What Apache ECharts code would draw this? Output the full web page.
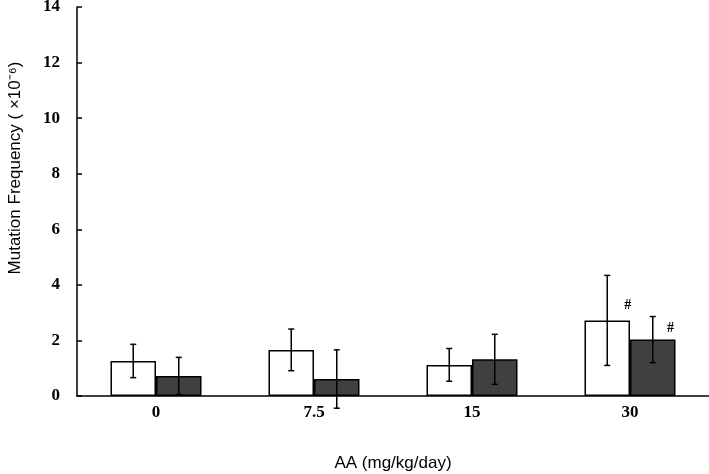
<!DOCTYPE html>
<html>
<head>
<meta charset="utf-8">
<script src="https://cdn.jsdelivr.net/npm/echarts@6/dist/echarts.min.js"></script>
<style>html,body{margin:0;padding:0;background:#fff}#c{width:709px;height:474px}</style>
</head>
<body>
<div id="c"></div>
<script>
var categories = ['0', '7.5', '15', '30'];
var controlMeans = [1.26, 1.66, 1.12, 2.72];
var controlErr = [0.60, 0.75, 0.59, 1.62];
var treatedMeans = [0.72, 0.61, 1.32, 2.03];
var treatedErr = [0.67, 1.05, 0.90, 0.83];
var controlMarks = ['', '', '', '#'];
var treatedMarks = ['', '', '', '#'];
var yTicks = [0, 2, 4, 6, 8, 10, 12, 14];

var BAR_FRAC = 0.288;
var serif = '"Liberation Serif", "Times New Roman", serif';
var sans = '"Liberation Sans", Arial, sans-serif';

function barData(means, marks, pos) {
  return means.map(function (v, i) {
    var d = { value: v };
    if (marks[i]) {
      d.label = { show: true, formatter: marks[i], position: pos, align: 'center', verticalAlign: 'middle',
        fontFamily: serif, fontWeight: 'bold', fontSize: 14, color: '#000' };
    }
    return d;
  });
}

function errSeries(means, errs, side) {
  return {
    type: 'custom',
    z: 10,
    data: means.map(function (m, i) { return [i, m, errs[i]]; }),
    renderItem: function (params, api) {
      var i = api.value(0), m = api.value(1), e = api.value(2);
      var band = api.size([1, 0])[0];
      var bw = band * BAR_FRAC;
      var c = api.coord([i, m]);
      var x = c[0] + side * bw / 2;
      var top = api.coord([i, m + e])[1];
      var bot = api.coord([i, m - e])[1];
      var cap = 3;
      var st = { stroke: '#000', lineWidth: 1.5 };
      return {
        type: 'group',
        children: [
          { type: 'line', shape: { x1: x, y1: top, x2: x, y2: bot }, style: st },
          { type: 'line', shape: { x1: x - cap, y1: top, x2: x + cap, y2: top }, style: st },
          { type: 'line', shape: { x1: x - cap, y1: bot, x2: x + cap, y2: bot }, style: st }
        ]
      };
    }
  };
}

var chart = echarts.init(document.getElementById('c'), null, { renderer: 'canvas' });
chart.setOption({
  animation: false,
  backgroundColor: '#fff',
  grid: { left: 77, right: 0, top: 7, bottom: 78, containLabel: false, outerBoundsMode: 'none' },
  xAxis: {
    type: 'category',
    data: categories,
    boundaryGap: true,
    name: 'AA (mg/kg/day)',
    nameLocation: 'middle',
    nameGap: 59,
    nameTextStyle: { fontFamily: sans, fontSize: 17, color: '#000' },
    axisLine: { lineStyle: { color: '#000', width: 1.5 } },
    axisTick: { inside: true, length: 5, lineStyle: { color: '#000', width: 1.5 } },
    axisLabel: { margin: 8, fontFamily: serif, fontWeight: 'bold', fontSize: 17, color: '#000' }
  },
  yAxis: {
    type: 'value',
    min: yTicks[0],
    max: yTicks[yTicks.length - 1],
    interval: yTicks[1] - yTicks[0],
    axisLine: { show: true, lineStyle: { color: '#000', width: 1.5 } },
    axisTick: { show: true, inside: true, length: 5, lineStyle: { color: '#000', width: 1.5 } },
    splitLine: { show: false },
    axisLabel: { margin: 17, fontFamily: serif, fontWeight: 'bold', fontSize: 17, color: '#000' }
  },
  graphic: [{
    type: 'text',
    x: 15, y: 168,
    rotation: Math.PI / 2,
    style: {
      text: 'Mutation Frequency ( \u00d710\u207b\u2076)',
      font: '17px ' + sans,
      fill: '#000',
      align: 'center',
      verticalAlign: 'middle'
    }
  }],
  series: [
    {
      type: 'bar',
      data: barData(controlMeans, controlMarks, ['95%', -15]),
      barWidth: (BAR_FRAC * 100) + '%',
      barGap: '0%',
      itemStyle: { color: '#fff', borderColor: '#000', borderWidth: 1.5 }
    },
    {
      type: 'bar',
      data: barData(treatedMeans, treatedMarks, ['89%', -11]),
      barWidth: (BAR_FRAC * 100) + '%',
      barGap: '0%',
      itemStyle: { color: '#404040', borderColor: '#000', borderWidth: 1.5 }
    },
    errSeries(controlMeans, controlErr, -1),
    errSeries(treatedMeans, treatedErr, 1)
  ]
});
</script>
</body>
</html>
